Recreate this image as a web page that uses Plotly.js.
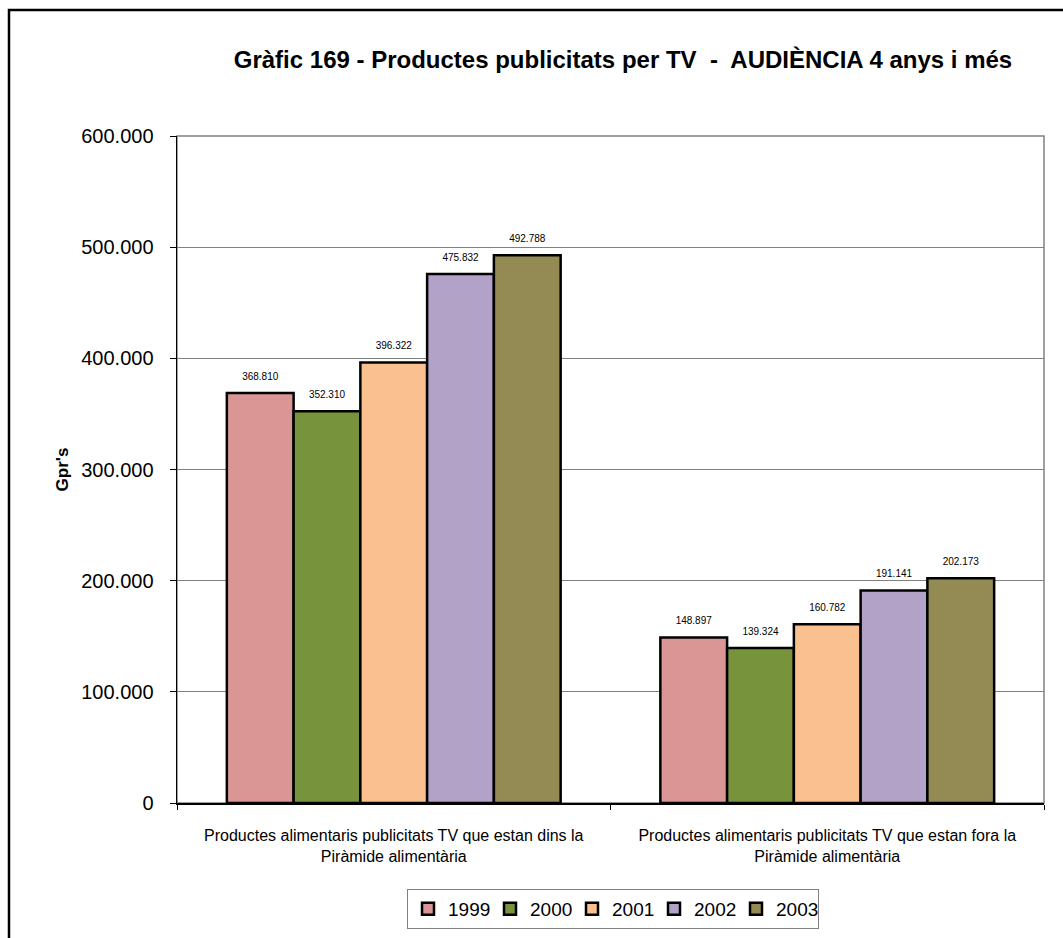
<!DOCTYPE html>
<html>
<head>
<meta charset="utf-8">
<script src="https://cdn.plot.ly/plotly-3.0.1.min.js"></script>
<style>
  html, body { margin: 0; padding: 0; background: #ffffff; }
  #chart { width: 1063px; height: 938px; }
</style>
</head>
<body>
<div id="chart"></div>
<script>
const categories = [
  "Productes alimentaris publicitats TV que estan dins la<br>Piràmide alimentària",
  "Productes alimentaris publicitats TV que estan fora la<br>Piràmide alimentària"
];
const years = ["1999", "2000", "2001", "2002", "2003"];
const values1999 = [368810, 148897];
const values2000 = [352310, 139324];
const values2001 = [396322, 160782];
const values2002 = [475832, 191141];
const values2003 = [492788, 202173];
const yTickValues = [0, 100000, 200000, 300000, 400000, 500000, 600000];
const yTickLabels = ["0", "100.000", "200.000", "300.000", "400.000", "500.000", "600.000"];
const colors = ["#D99694", "#77933C", "#FAC090", "#B3A2C7", "#948A54"];

const seriesValues = [values1999, values2000, values2001, values2002, values2003];

function fmt(v) {
  return String(v).replace(/\B(?=(\d{3})+(?!\d))/g, ".");
}

const FONT = "Liberation Sans, Arial, sans-serif";

const barTraces = years.map((y, i) => ({
  type: "bar",
  name: y,
  x: categories,
  y: seriesValues[i],
  offsetgroup: y,
  marker: { color: colors[i], line: { color: "#000000", width: 2.5 } },
  hoverinfo: "none"
}));

// value labels, grouped like the bars, placed above each bar top
const labelTraces = years.map((y, i) => ({
  type: "scatter",
  mode: "markers+text",
  name: y + " labels",
  x: categories,
  y: seriesValues[i],
  offsetgroup: y,
  text: seriesValues[i].map(fmt),
  textposition: "top center",
  textfont: { family: FONT, size: 10, color: "#000000" },
  marker: { size: 16, color: "rgba(0,0,0,0)", line: { width: 0 } },
  cliponaxis: false,
  showlegend: false,
  hoverinfo: "none"
}));

const layout = {
  width: 1063,
  height: 938,
  margin: { l: 177, r: 19, t: 136, b: 135, autoexpand: false },
  paper_bgcolor: "#ffffff",
  plot_bgcolor: "#ffffff",
  font: { family: FONT, color: "#000000" },
  barmode: "group",
  bargap: 0.23,
  bargroupgap: 0,
  scattermode: "group",
  scattergap: 0.23,
  showlegend: true,
  title: {
    text: "<b>Gràfic 169 - Productes publicitats per TV  -  AUDIÈNCIA 4 anys i més</b>",
    font: { family: FONT, size: 24, color: "#000000" },
    xref: "container", x: 623 / 1063, xanchor: "center",
    yref: "container", y: 1 - 60 / 938, yanchor: "middle"
  },
  xaxis: {
    type: "category",
    showline: true, linecolor: "#000000", linewidth: 1.5,
    ticks: "outside", tickson: "boundaries", ticklen: 5, tickcolor: "#000000",
    ticklabelstandoff: 17,
    tickfont: { family: FONT, size: 16, color: "#000000" },
    showgrid: false, zeroline: false
  },
  yaxis: {
    range: [0, 600000],
    tickvals: yTickValues,
    ticktext: yTickLabels,
    showline: true, linecolor: "#000000", linewidth: 1.5,
    ticks: "outside", ticklen: 6, tickcolor: "#000000",
    ticklabelstandoff: 12,
    tickfont: { family: FONT, size: 20, color: "#000000" },
    showgrid: true, gridcolor: "#808080", gridwidth: 1,
    zeroline: false,
    title: {
      text: "<b>Gpr's</b>",
      font: { family: FONT, size: 17, color: "#000000" },
      standoff: 8
    }
  },
  legend: {
    orientation: "h",
    xref: "container", x: 613 / 1063, xanchor: "center",
    yref: "container", y: 1 - 889 / 938, yanchor: "top",
    bordercolor: "#808080", borderwidth: 1,
    bgcolor: "#ffffff",
    font: { family: FONT, size: 19, color: "#000000" },
    itemwidth: 30,
    entrywidth: 37
  },
  shapes: [
    { type: "rect", xref: "paper", yref: "paper", x0: 0, x1: 1, y0: 0, y1: 1,
      line: { color: "#808080", width: 1.5 }, layer: "below" },
    { type: "rect", xref: "paper", yref: "paper",
      x0: (9 - 177) / 867, x1: 1.3, y0: -0.5, y1: (803 - 10) / 667,
      line: { color: "#000000", width: 2.5 }, layer: "above" }
  ]
};

Plotly.newPlot("chart", barTraces.concat(labelTraces), layout, { displayModeBar: false, staticPlot: true });
</script>
</body>
</html>
